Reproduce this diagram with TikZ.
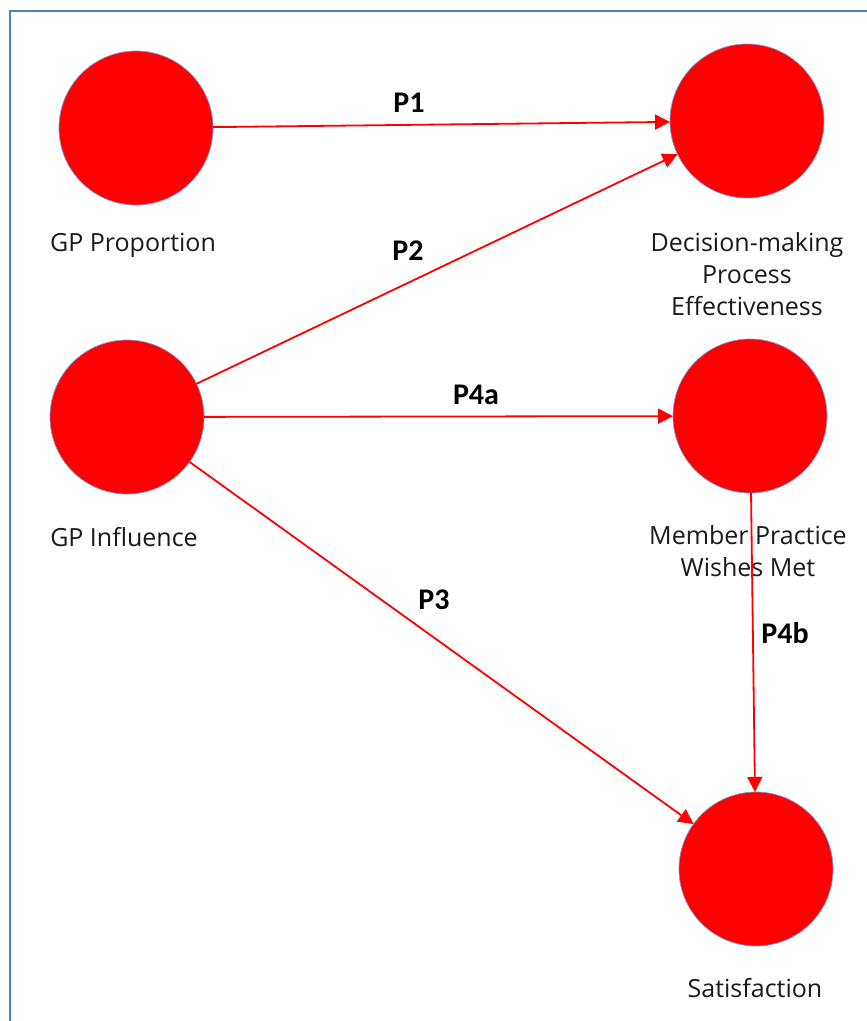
\documentclass[tikz,border=0pt]{standalone}
\usepackage{fontspec}
\setmainfont{Open Sans}
\newfontfamily\labelfont{Carlito}
\usetikzlibrary{arrows.meta}
\definecolor{framecol}{RGB}{79,129,189}
\definecolor{rimcol}{RGB}{130,150,215}
\definecolor{txtcol}{RGB}{25,25,30}
\tikzset{
  construct/.style={circle, fill=red, draw=rimcol, line width=0.7pt,
    minimum size=154pt, inner sep=0pt, outer sep=0pt},
  caption/.style={text=txtcol, font=\fontsize{25}{32}\selectfont, align=center, inner sep=0pt},
  plabel/.style={text=black, font=\labelfont\bfseries\fontsize{30}{30}\selectfont, inner sep=0pt},
  link/.style={draw=red, line width=1.8pt, -{Triangle[length=15pt, width=15pt]}}
}
\begin{document}
\begin{tikzpicture}[x=1pt, y=-1pt]
  \useasboundingbox (0,0) rectangle (867,1021);
  % outer frame (only top and left edges fall inside the page)
  \begin{scope}
    \clip (0,0) rectangle (867,1021);
    \draw[framecol, line width=2pt] (10,11) rectangle (900,1060);
  \end{scope}

  % constructs
  \node[construct] (prop) at (136,128) {};
  \node[construct] (dec)  at (747,121) {};
  \node[construct] (infl) at (127,417) {};
  \node[construct] (wish) at (750,416) {};
  \node[construct] (sat)  at (756,869) {};

  % construct names
  \node[caption] (tprop) at (133,245) {GP Proportion};
  \node[caption] (tdec)  at (747,274) {Decision-making\\Process\\Effectiveness};
  \node[caption] (tinfl) at (124,537) {GP Influence};
  \node[caption] (twish) at (748,551) {Member Practice\\Wishes Met};
  \node[caption] (tsat)  at (755,988) {Satisfaction};

  % hypothesised paths
  \draw[link] (prop) -- (dec);
  \draw[link] (infl) -- (dec);
  \draw[link] (infl) -- (wish);
  \draw[link] (infl) -- (sat);
  \draw[link] (wish) -- (sat);

  % path labels
  \node[plabel] (p1)  at (409,103) {P1};
  \node[plabel] (p2)  at (408,251) {P2};
  \node[plabel] (p4a) at (476,395) {P4a};
  \node[plabel] (p3)  at (434,600) {P3};
  \node[plabel] (p4b) at (785,633) {P4b};
\end{tikzpicture}
\end{document}
